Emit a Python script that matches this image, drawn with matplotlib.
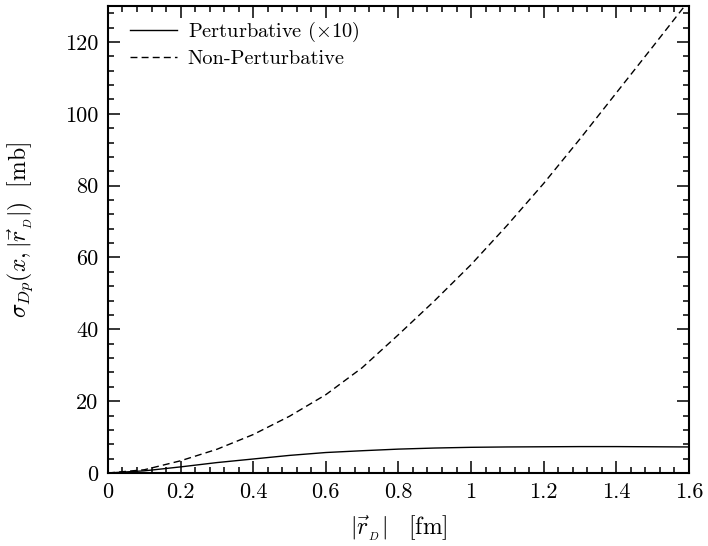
import matplotlib
matplotlib.use("Agg")
import matplotlib.pyplot as plt
from matplotlib.ticker import MultipleLocator, FormatStrFormatter

plt.rcParams['font.family'] = 'serif'
plt.rcParams['font.serif'] = ['cmr10', 'DejaVu Serif']
plt.rcParams['mathtext.fontset'] = 'cm'
plt.rcParams['axes.unicode_minus'] = False

r_fm = [0.0, 0.1, 0.2, 0.3, 0.4, 0.5, 0.6, 0.7, 0.8, 0.9, 1.0, 1.1, 1.2, 1.3, 1.4, 1.5, 1.6]
pert_x10 = [0.0, 0.6, 1.7, 2.9, 3.9, 4.9, 5.7, 6.2, 6.65, 6.95, 7.15, 7.25, 7.3, 7.35, 7.35, 7.3, 7.25]
nonpert = [0.0, 0.9, 3.4, 6.6, 10.7, 15.8, 21.8, 29.3, 38.5, 48.0, 58.0, 69.0, 80.6, 93.0, 105.8, 118.6, 131.5]

fig = plt.figure(figsize=(7.08, 5.46), dpi=100)
ax = fig.add_axes([0.1525, 0.1337, 0.973 - 0.1525, 0.989 - 0.1337])

ax.plot(r_fm, pert_x10, color='black', lw=1.0, ls='-', label=r'Perturbative ($\times$10)')
ax.plot(r_fm, nonpert, color='black', lw=1.0, ls=(0, (5, 3)), label='Non-Perturbative')

ax.set_xlim(0, 1.6)
ax.set_ylim(0, 130)
ax.xaxis.set_major_locator(MultipleLocator(0.2))
ax.xaxis.set_minor_locator(MultipleLocator(0.04))
ax.yaxis.set_major_locator(MultipleLocator(20))
ax.yaxis.set_minor_locator(MultipleLocator(4))
ax.xaxis.set_major_formatter(FormatStrFormatter('%g'))
ax.yaxis.set_major_formatter(FormatStrFormatter('%g'))

ax.tick_params(which='both', direction='in', top=True, right=True, labelsize=16, width=1.1, pad=7)
ax.tick_params(which='major', length=8.5)
ax.tick_params(which='minor', length=4.3)
for s in ax.spines.values():
    s.set_linewidth(1.5)

ax.set_xlabel(r'$|\vec{r}_{_D}|\ \ \ [\mathrm{fm}]$', fontsize=17, labelpad=8)
ax.set_ylabel(r'$\sigma_{Dp}(x,|\vec{r}_{_D}|)\ \ [\mathrm{mb}]$', fontsize=17)
ax.yaxis.set_label_coords(-0.126, 0.52)

leg = ax.legend(loc='upper left', bbox_to_anchor=(0.014, 1.0), frameon=False, fontsize=14.7,
                handlelength=2.3, borderaxespad=0.3, handletextpad=0.5, labelspacing=0.25)

fig.savefig('out.png', dpi=100)
